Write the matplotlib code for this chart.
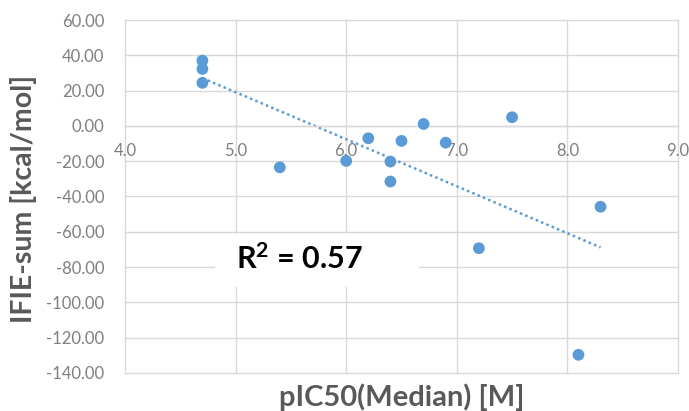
import numpy as np
import matplotlib
matplotlib.use("Agg")
import matplotlib.pyplot as plt
from matplotlib.patches import Rectangle

# pIC50 values and summed IFIE energies for each compound
pic50 = [4.7, 4.7, 4.7, 5.4, 6.0, 6.2, 6.4, 6.4, 6.5, 6.7, 6.9, 7.5, 7.2, 8.3, 8.1]
ifie_sum = [37.0, 32.3, 24.4, -23.5, -19.8, -7.0, -20.2, -31.5, -8.5, 1.1, -9.5, 4.9, -69.3, -45.8, -129.7]

x_ticks = [4.0, 5.0, 6.0, 7.0, 8.0, 9.0]
y_ticks = [60, 40, 20, 0, -20, -40, -60, -80, -100, -120, -140]
r2_label = "R$^{2}$ = 0.57"

plt.rcParams["font.family"] = ["Lato", "DejaVu Sans"]
plt.rcParams["mathtext.fontset"] = "custom"
plt.rcParams["mathtext.rm"] = "Lato:bold"
plt.rcParams["mathtext.bf"] = "Lato:bold"
plt.rcParams["mathtext.it"] = "Lato:bold"

fig = plt.figure(figsize=(6.89, 4.11), dpi=100)
ax = fig.add_axes([0.1814, 0.0925, 0.8026, 0.8588])

blue = "#5b9bd5"
grid_c = "#d9d9d9"
tick_c = "#7f7f7f"
label_c = "#595959"

ax.set_xlim(4.0, 9.0)
ax.set_ylim(-140, 60)
ax.set_xticks(x_ticks)
ax.set_yticks(y_ticks)
ax.set_xticklabels([f"{v:.1f}" for v in x_ticks])
ax.set_yticklabels([f"{v:.2f}" for v in y_ticks])

for s in ["top", "right", "left"]:
    ax.spines[s].set_visible(False)
ax.spines["bottom"].set_position(("data", 0))
ax.spines["bottom"].set_color(grid_c)
ax.spines["bottom"].set_linewidth(1.0)

ax.grid(True, color=grid_c, linewidth=1.0, zorder=0)
for gl in ax.get_xgridlines() + ax.get_ygridlines():
    gl.set_clip_on(False)
ax.set_axisbelow(True)

ax.tick_params(axis="both", length=0, labelsize=12, colors=tick_c)
ax.tick_params(axis="x", pad=12)
ax.tick_params(axis="y", pad=15)

# Linear trendline over the data range
coef = np.polyfit(pic50, ifie_sum, 1)
xt = np.array([min(pic50), max(pic50)])
ax.plot(xt, np.polyval(coef, xt), linestyle=(0, (1, 1.3)), color=blue,
        linewidth=1.8, zorder=2)

ax.scatter(pic50, ifie_sum, s=72, color=blue, edgecolors="none", zorder=3)

# White panel behind the R² annotation
ax.add_patch(Rectangle((4.81, -91.5), 1.85, 30, facecolor="white",
                       edgecolor="none", zorder=1))
ax.text(5.0, -75, r2_label, fontsize=22, fontweight="bold", color="black",
        ha="left", va="center", zorder=4)

fig.text(0.5826, 0.0, "pIC50(Median) [M]", fontsize=21, fontweight="bold",
         color=label_c, ha="center", va="bottom")
fig.text(0.034, 0.515, "IFIE-sum [kcal/mol]", fontsize=20.5, fontweight="bold",
         color=label_c, ha="center", va="center", rotation=90)

fig.savefig("out.png", dpi=100)
